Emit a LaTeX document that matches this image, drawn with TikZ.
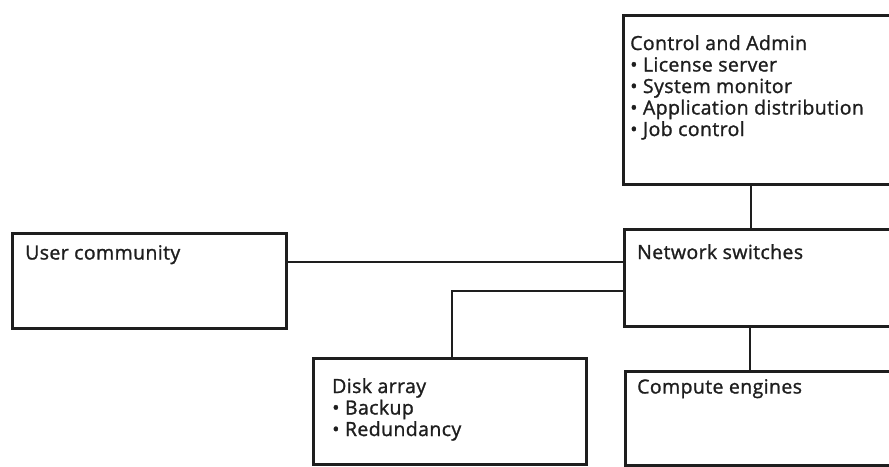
\documentclass[tikz,border=0pt]{standalone}
\usepackage{fontspec}
\setmainfont{Open Sans}[FakeBold=1.2,LetterSpace=2]
\definecolor{ink}{HTML}{1E1E1E}
\begin{document}
\begin{tikzpicture}[x=1pt,y=-1pt,
  box/.style={draw=ink,line width=2.8pt,anchor=north west,inner sep=0pt},
  wire/.style={draw=ink,line width=2.8pt},
  txt/.style={anchor=north west,inner sep=0pt,align=left,text=ink,
    font=\fontsize{19.5}{21.5}\selectfont}]
\clip (0,0) rectangle (889,466);
\fill[white] (0,0) rectangle (889,466);
% boxes
\node[box,minimum width=300pt,minimum height=169pt] (ctl) at (622,14) {};
\node[box,minimum width=300pt,minimum height=97pt] (nsw) at (623,228) {};
\node[box,minimum width=300pt,minimum height=94pt] (cmp) at (624,370) {};
\node[box,minimum width=274pt,minimum height=95pt] (usr) at (11,232) {};
\node[box,minimum width=273pt,minimum height=106pt] (dsk) at (312,357) {};
% texts
\node[txt] (ctlt) at (630,35) {Control and Admin\\• License server\\• System monitor\\• Application distribution\\• Job control};
\node[txt] (nswt) at (637,244) {Network switches};
\node[txt] (cmpt) at (637,379) {Compute engines};
\node[txt] (usrt) at (25,245) {User community};
\node[txt] (dskt) at (332,378) {Disk array\\• Backup\\• Redundancy};
% connectors
\draw[wire] (751,0 |- ctl.south) -- (751,0 |- nsw.north);
\draw[wire] (750,0 |- nsw.south) -- (750,0 |- cmp.north);
\draw[wire] (usr.east |- 0,262) -- (nsw.west |- 0,262);
\draw[wire] (nsw.west |- 0,291) -| (452,0 |- dsk.north);
\end{tikzpicture}
\end{document}
